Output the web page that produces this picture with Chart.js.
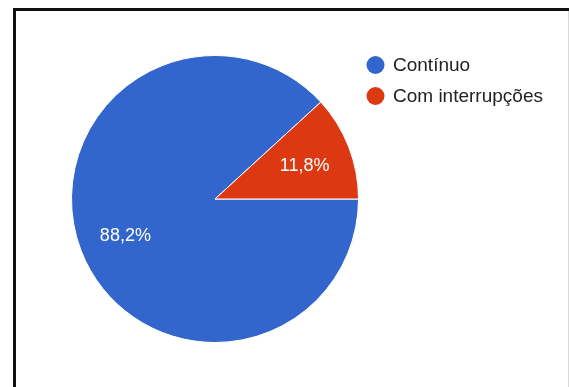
<!DOCTYPE html>
<html>
<head>
<meta charset="utf-8">
<script src="https://cdn.jsdelivr.net/npm/chart.js@4"></script>
<style>
  html, body { margin: 0; padding: 0; background: #fff; }
  #wrap { position: relative; width: 569px; height: 387px; overflow: hidden; }
  #frame {
    position: absolute; left: 13px; top: 8px; width: 600px; height: 400px;
    border-top: 3px solid #111; border-left: 3px solid #111;
    pointer-events: none;
  }
  #edge { position: absolute; left: 568px; top: 11px; width: 1px; height: 376px; background: #d8d8d8; }
</style>
</head>
<body>
<div id="wrap">
  <canvas id="chart" width="569" height="387"></canvas>
  <div id="frame"></div>
  <div id="edge"></div>
</div>
<script>
const categories = ['Contínuo', 'Com interrupções'];
const shares = [88.2, 11.8];
const sliceColors = ['#3366cc', '#dc3912'];

const FONT = '"Liberation Sans", Arial, sans-serif';

// percentage text inside each slice
const sliceLabels = {
  id: 'sliceLabels',
  afterDatasetsDraw(chart) {
    const { ctx } = chart;
    const meta = chart.getDatasetMeta(0);
    ctx.save();
    ctx.fillStyle = '#fff';
    ctx.font = '18px ' + FONT;
    ctx.textAlign = 'center';
    ctx.textBaseline = 'middle';
    meta.data.forEach((arc, i) => {
      const { x, y, startAngle, endAngle, outerRadius } = arc.getProps(['x', 'y', 'startAngle', 'endAngle', 'outerRadius'], true);
      const mid = (startAngle + endAngle) / 2;
      const r = outerRadius * 0.67;
      const text = shares[i].toFixed(1).replace('.', ',') + '%';
      ctx.fillText(text, x + Math.cos(mid) * r, y + Math.sin(mid) * r + 2);
    });
    ctx.restore();
  },
};

// legend at the top right: dot + label
const sideLegend = {
  id: 'sideLegend',
  afterDraw(chart) {
    const { ctx } = chart;
    ctx.save();
    ctx.font = '19px ' + FONT;
    ctx.textBaseline = 'middle';
    categories.forEach((name, i) => {
      const cy = 65 + i * 31;
      ctx.fillStyle = sliceColors[i];
      ctx.beginPath();
      ctx.arc(375.5, cy, 9, 0, Math.PI * 2);
      ctx.fill();
      ctx.fillStyle = '#222';
      ctx.fillText(name, 393, cy + 1);
    });
    ctx.restore();
  },
};

new Chart(document.getElementById('chart'), {
  type: 'pie',
  data: {
    labels: categories,
    datasets: [{
      data: shares,
      backgroundColor: sliceColors,
      borderColor: '#fff',
      borderWidth: 1,
    }],
  },
  plugins: [sliceLabels, sideLegend],
  options: {
    responsive: false,
    animation: false,
    rotation: 90,
    layout: { padding: { left: 71, right: 210, top: 55, bottom: 44 } },
    plugins: {
      legend: { display: false },
      tooltip: { enabled: false },
    },
  },
});
</script>
</body>
</html>
